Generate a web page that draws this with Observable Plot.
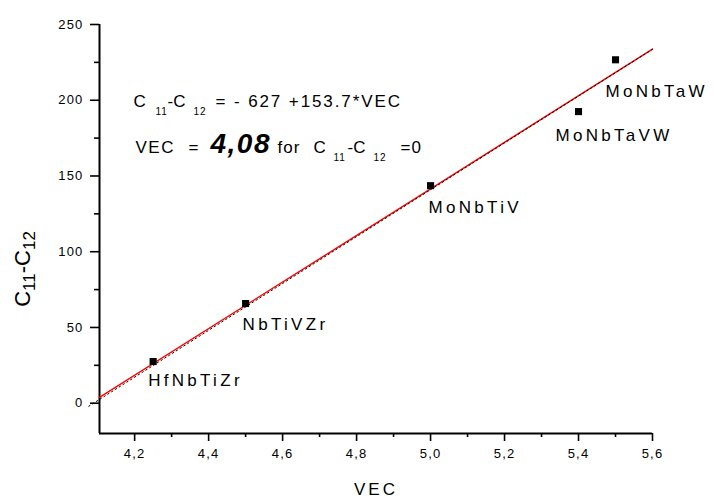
<!DOCTYPE html>
<html><head><meta charset="utf-8">
<script src="https://cdn.jsdelivr.net/npm/d3@7"></script>
<script src="https://cdn.jsdelivr.net/npm/@observablehq/plot@0.6"></script>
<style>
body{margin:0;background:#fff;} #chart svg{display:block;}
#chart svg g[aria-label$="tick label"] text{font-size:13px;letter-spacing:1.2px;}
</style>
</head><body><div id="chart"></div>
<script>
// ---- data ----
const alloys = ["HfNbTiZr", "NbTiVZr", "MoNbTiV", "MoNbTaVW", "MoNbTaW"];
const vec = [4.25, 4.5, 5.0, 5.4, 5.5];
const c11c12 = [27.5, 65.8, 143.6, 192.5, 226.7];
// fitted line end points (black) and red overlay
const fitVEC = [4.076, 5.6];
const fitValue = [-2.0, 233.7];
const redVEC = [4.105, 5.6];
const redValue = [3.9, 233.7];
const xMajorTicks = [4.2, 4.4, 4.6, 4.8, 5.0, 5.2, 5.4, 5.6];
const xMinorTicks = [4.3, 4.5, 4.7, 4.9, 5.1, 5.3, 5.5];
const yMajorTicks = [0, 50, 100, 150, 200, 250];
const yMinorTicks = [25, 75, 125, 175, 225];
const xDomain = [4.105, 5.6];
const yDomain = [-20, 250];

const points = alloys.map((name, i) => ({name, vec: vec[i], v: c11c12[i]}));
const fit = fitVEC.map((x, i) => ({x, y: fitValue[i]}));
const red = redVEC.map((x, i) => ({x, y: redValue[i]}));

// label offsets (px) relative to each marker
const labelOffset = {
  HfNbTiZr: [-5, 19], NbTiVZr: [-3, 21], MoNbTiV: [-2, 22],
  MoNbTaVW: [-23, 24], MoNbTaW: [-10, 32]
};

const font = "'Liberation Sans', Arial, sans-serif";
const xFmt = d => d.toFixed(1).replace(".", ",");

const plot = Plot.plot({
  width: 714, height: 500,
  marginLeft: 99, marginRight: 62, marginTop: 24, marginBottom: 67,
  style: {fontFamily: font, background: "#fff", color: "#000", overflow: "visible"},
  x: {domain: xDomain},
  y: {domain: yDomain},
  marks: [
    Plot.axisX(xMajorTicks, {tickSize: 8, tickPadding: 7, tickFormat: xFmt, fontSize: 13, stroke: "#000", strokeOpacity: 1, strokeWidth: 1.6, label: null, fill: "#000"}),
    Plot.axisX(xMinorTicks, {tickSize: 4, tickFormat: () => "", stroke: "#000", strokeOpacity: 1, strokeWidth: 1.6, label: null}),
    Plot.axisY(yMajorTicks, {tickSize: 9, tickPadding: 7, fontSize: 13, stroke: "#000", strokeOpacity: 1, strokeWidth: 1.6, label: null, fill: "#000"}),
    Plot.axisY(yMinorTicks, {tickSize: 5, tickFormat: () => "", stroke: "#000", strokeOpacity: 1, strokeWidth: 1.6, label: null}),
    Plot.ruleY([yDomain[0]], {x1: xDomain[0], x2: xDomain[1], stroke: "#000", strokeWidth: 2}),
    Plot.ruleX([xDomain[0]], {y1: yDomain[0], y2: yDomain[1], stroke: "#000", strokeWidth: 2}),
    Plot.line(red, {x: "x", y: "y", stroke: "#ff0000", strokeWidth: 1.4}),
    Plot.line(fit, {x: "x", y: "y", stroke: "#000", strokeWidth: 1, strokeDasharray: "1.5,3"}),
    Plot.dot(points, {x: "vec", y: "v", symbol: "square", r: 4, fill: "#000", stroke: null}),
    ...points.map(p => Plot.text([p], {x: "vec", y: "v", text: "name", textAnchor: "start",
      dx: labelOffset[p.name][0], dy: labelOffset[p.name][1], fontSize: 17, fill: "#000"})),
    Plot.text(["eq1"], {frameAnchor: "top-left", dx: 34, dy: 82, text: d => d, textAnchor: "start", fontSize: 17, fill: "#000"}),
    Plot.text(["eq2"], {frameAnchor: "top-left", dx: 36, dy: 128, text: d => d, textAnchor: "start", fontSize: 17, fill: "#000"}),
    Plot.text(["VEC"], {frameAnchor: "bottom", dx: 0, dy: 61, text: d => d, fontSize: 17, fill: "#000"}),
    Plot.text(["ylabel"], {frameAnchor: "left", dx: -70, dy: 40, text: d => d, rotate: -90, textAnchor: "middle", fontSize: 22, fill: "#000"})
  ]
});

const svg = d3.select(plot);
function byText(s) {
  return svg.selectAll("text").filter(function() { return this.textContent === s; });
}
function rich(key, parts) {
  const t = byText(key);
  t.text(null).attr("y", null).attr("dy", null);
  parts.forEach(p => {
    const ts = t.append("tspan").text(p.t);
    if (p.size) ts.attr("font-size", p.size);
    if (p.weight) ts.attr("font-weight", p.weight);
    if (p.style) ts.attr("font-style", p.style);
    if (p.dy) ts.attr("dy", p.dy);
    if (p.dx) ts.attr("dx", p.dx);
    if (p.x !== undefined) ts.attr("x", p.x);
    if (p.ls) ts.attr("letter-spacing", p.ls);
  });
}
rich("eq1", [
  {t: "C", x: 0}, {t: "11", x: 22, size: 10, dy: 8, ls: 1}, {t: "-C", x: 34, dy: -8},
  {t: "12", x: 60, size: 10, dy: 8, ls: 1}, {t: "= - 627 +153.7*VEC", x: 82, dy: -8, ls: 1.9}
]);
rich("eq2", [
  {t: "VEC", x: 0, ls: 1.5}, {t: "=", x: 53}, {t: "4,08", x: 75, size: 28, weight: "bold", style: "italic", ls: 1.5},
  {t: "for", x: 142, ls: 1}, {t: "C", x: 178}, {t: "11", x: 198, size: 10, dy: 8, ls: 1},
  {t: "-C", x: 212, dy: -8}, {t: "12", x: 238, size: 10, dy: 8, ls: 1}, {t: "=0", x: 265, dy: -8, ls: 1}
]);
rich("ylabel", [
  {t: "C"}, {t: "11", size: 17, dy: 5}, {t: "-C", dy: -5}, {t: "12", size: 17, dy: 5}
]);
byText("VEC").attr("letter-spacing", 3);
alloys.forEach(a => byText(a).attr("letter-spacing", 3.3));

document.getElementById("chart").appendChild(plot);
</script>
</body></html>
